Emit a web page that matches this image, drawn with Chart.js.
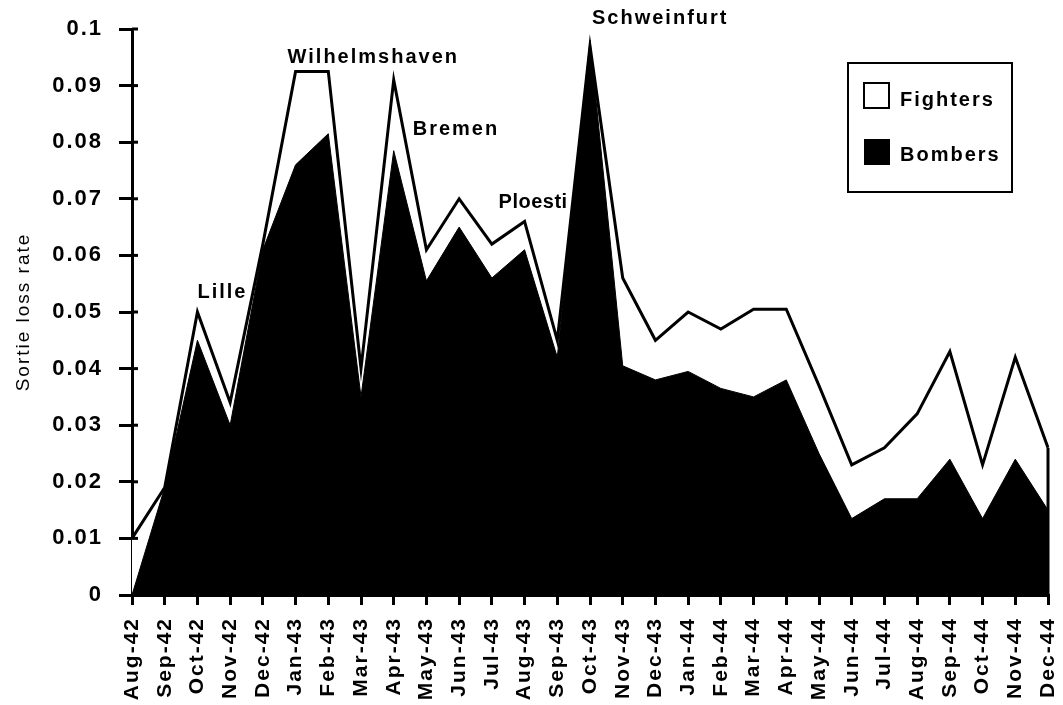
<!DOCTYPE html>
<html>
<head>
<meta charset="utf-8">
<script src="https://cdn.jsdelivr.net/npm/chart.js@4.4.1/dist/chart.umd.min.js"></script>
<style>
  html, body { margin: 0; padding: 0; background: #fff; }
  #wrap { width: 1063px; height: 705px; }
</style>
</head>
<body>
<div id="wrap"><canvas id="lossChart" width="1063" height="705"></canvas></div>
<script>
// ─── DATA ───
const months = [
  'Aug-42', 'Sep-42', 'Oct-42', 'Nov-42', 'Dec-42',
  'Jan-43', 'Feb-43', 'Mar-43', 'Apr-43', 'May-43', 'Jun-43', 'Jul-43',
  'Aug-43', 'Sep-43', 'Oct-43', 'Nov-43', 'Dec-43',
  'Jan-44', 'Feb-44', 'Mar-44', 'Apr-44', 'May-44', 'Jun-44', 'Jul-44',
  'Aug-44', 'Sep-44', 'Oct-44', 'Nov-44', 'Dec-44'
];
const fighters = [
  0.010, 0.019, 0.050, 0.034, 0.062,
  0.0925, 0.0925, 0.040, 0.091, 0.061, 0.070, 0.062,
  0.066, 0.045, 0.097, 0.056, 0.045,
  0.050, 0.047, 0.0505, 0.0505, 0.037, 0.023, 0.026,
  0.032, 0.043, 0.023, 0.042, 0.026
];
const bombers = [
  0.000, 0.019, 0.045, 0.030, 0.061,
  0.076, 0.0815, 0.035, 0.0785, 0.0555, 0.065, 0.056,
  0.061, 0.042, 0.098, 0.0405, 0.038,
  0.0395, 0.0365, 0.035, 0.038, 0.025, 0.0135, 0.017,
  0.017, 0.024, 0.0135, 0.024, 0.015
];
const yTickValues = [0, 0.01, 0.02, 0.03, 0.04, 0.05, 0.06, 0.07, 0.08, 0.09, 0.1];
const yTickLabels = ['0', '0.01', '0.02', '0.03', '0.04', '0.05', '0.06', '0.07', '0.08', '0.09', '0.1'];
const raidNames = ['Lille', 'Wilhelmshaven', 'Bremen', 'Ploesti', 'Schweinfurt'];
const raidMonths = ['Oct-42', 'Jan-43', 'Apr-43', 'Aug-43', 'Oct-43'];

// ─── STYLE ───
const FONT = '"Liberation Sans", Arial, Helvetica, sans-serif';
// text offsets of each raid label from its month tick (px), and label height in data units
const raidOffsets = [[0, 0.0534], [-8, 0.0949], [19, 0.0822], [-26, 0.0693], [2, 0.1018]];
const raidSpacing = ['2px', '2px', '2px', '0.5px', '2px'];

const spacing = {
  id: 'spacing',
  beforeUpdate(chart) { chart.ctx.letterSpacing = '2px'; },
  beforeDraw(chart) { chart.ctx.letterSpacing = '2px'; }
};

const extras = {
  id: 'extras',
  afterDatasetsDraw(chart) {
    const { ctx, scales: { x, y } } = chart;
    ctx.save();
    // right edge of fighter series drops to the axis
    const lastX = x.getPixelForValue(months.length - 1);
    ctx.strokeStyle = '#000';
    ctx.lineWidth = 3;
    ctx.beginPath();
    ctx.moveTo(lastX, y.getPixelForValue(fighters[fighters.length - 1]));
    ctx.lineTo(lastX, y.getPixelForValue(0));
    ctx.stroke();
    // inner halves of y ticks
    yTickValues.forEach(v => {
      const py = y.getPixelForValue(v);
      ctx.beginPath();
      ctx.moveTo(x.left, py);
      ctx.lineTo(x.left + 6, py);
      ctx.stroke();
    });
    // raid labels
    ctx.fillStyle = '#000';
    ctx.textBaseline = 'middle';
    ctx.textAlign = 'left';
    ctx.font = 'bold 20px ' + FONT;
    raidNames.forEach((name, i) => {
      ctx.letterSpacing = raidSpacing[i];
      const px = x.getPixelForValue(months.indexOf(raidMonths[i])) + raidOffsets[i][0];
      ctx.fillText(name, px, y.getPixelForValue(raidOffsets[i][1]));
    });
    // legend box
    ctx.letterSpacing = '2px';
    ctx.lineWidth = 2;
    ctx.strokeRect(848, 63, 164, 129);
    ctx.fillStyle = '#fff';
    ctx.fillRect(864, 83, 25, 25);
    ctx.strokeRect(864, 83, 25, 25);
    ctx.fillStyle = '#000';
    ctx.fillRect(864, 139, 26, 26);
    ctx.fillText(chart.data.datasets[0].label, 900, 100);
    ctx.fillText(chart.data.datasets[1].label, 900, 155);
    ctx.restore();
  }
};

new Chart(document.getElementById('lossChart'), {
  type: 'line',
  data: {
    labels: months,
    datasets: [
      {
        label: 'Fighters',
        data: fighters,
        fill: 'origin',
        backgroundColor: '#fff',
        borderColor: '#000',
        borderWidth: 3,
        pointRadius: 0,
        tension: 0,
        order: 2,
      },
      {
        label: 'Bombers',
        data: bombers,
        fill: 'origin',
        backgroundColor: '#000',
        borderColor: '#000',
        borderWidth: 1,
        pointRadius: 0,
        tension: 0,
        order: 1,
      }
    ]
  },
  options: {
    responsive: false,
    animation: false,
    events: [],
    layout: { padding: { top: 29, right: 15, left: 0, bottom: 0 } },
    plugins: {
      legend: { display: false },
      tooltip: { enabled: false },
    },
    scales: {
      x: {
        offset: false,
        grid: { drawOnChartArea: false, color: '#000', lineWidth: 3, tickLength: 10 },
        border: { color: '#000', width: 3 },
        ticks: {
          color: '#000',
          font: { size: 21, weight: 'bold', family: FONT },
          minRotation: 90,
          maxRotation: 90,
          autoSkip: false,
          padding: 12,
        },
        afterFit: s => { s.height = 110; s.paddingLeft = 0; s.paddingRight = 0; },
      },
      y: {
        min: 0,
        max: 0.1,
        grid: { drawOnChartArea: false, color: '#000', lineWidth: 3, tickLength: 13 },
        border: { color: '#000', width: 3 },
        afterBuildTicks: s => { s.ticks = yTickValues.map(v => ({ value: v })); },
        ticks: {
          color: '#000',
          font: { size: 22, weight: 'bold', family: FONT },
          padding: 16,
          callback: (v, i) => yTickLabels[i],
        },
        title: {
          display: true,
          text: 'Sortie loss rate',
          color: '#000',
          font: { size: 19, family: FONT },
          padding: { top: 12, bottom: 0 },
        },
        afterFit: s => { s.width = 132; s.paddingTop = 0; s.paddingBottom = 0; },
      }
    }
  },
  plugins: [spacing, extras]
});
</script>
</body>
</html>
